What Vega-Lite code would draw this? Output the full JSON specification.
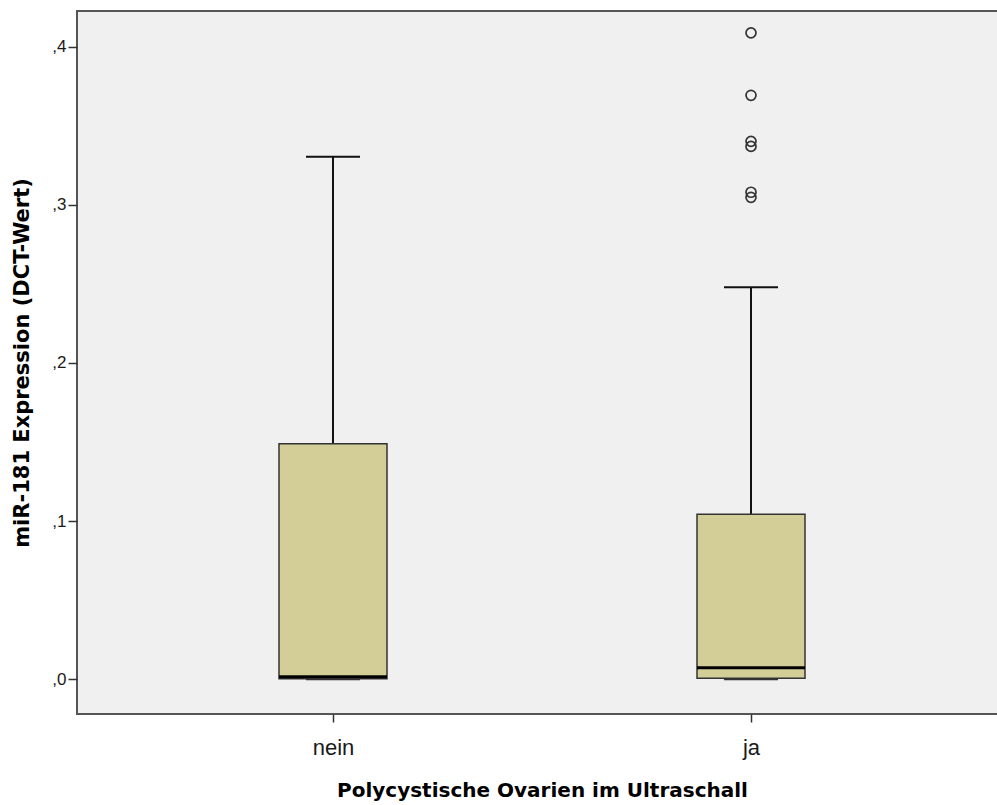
{
  "$schema": "https://vega.github.io/schema/vega-lite/v6.json",
  "autosize": "none",
  "width": 930,
  "height": 703,
  "padding": {"left": 77, "top": 11, "right": 0, "bottom": 91},
  "background": "white",
  "config": {
    "view": {"fill": "#F0F0F0", "stroke": "#555555", "strokeWidth": 2},
    "font": "Liberation Sans",
    "axis": {"grid": false, "domain": false, "tickColor": "#333333", "tickWidth": 1.5, "labelFont": "Liberation Sans", "titleFont": "DejaVu Sans", "labelColor": "#1a1a1a", "titleColor": "#000000"}
  },
  "datasets": {
    "boxes": [
      {"group": "nein", "lower": 0.0, "q1": 0.0003, "median": 0.0016, "q3": 0.1488, "upper": 0.3304},
      {"group": "ja", "lower": 0.0, "q1": 0.0006, "median": 0.0073, "q3": 0.1043, "upper": 0.2479}
    ],
    "outliers": [
      {"group": "ja", "value": 0.4087},
      {"group": "ja", "value": 0.3692},
      {"group": "ja", "value": 0.3401},
      {"group": "ja", "value": 0.3369},
      {"group": "ja", "value": 0.3079},
      {"group": "ja", "value": 0.3047}
    ]
  },
  "encoding": {
    "x": {
      "field": "group", "type": "nominal", "sort": ["nein", "ja"],
      "scale": {"type": "point", "padding": 0.6124},
      "axis": {"title": "Polycystische Ovarien im Ultraschall", "labelAngle": 0, "labelFontSize": 22, "tickSize": 8, "labelPadding": 15, "titleFontSize": 20, "titleFontWeight": "bold", "titlePadding": 22}
    }
  },
  "layer": [
    {
      "data": {"name": "boxes"},
      "mark": {"type": "rule", "color": "#111111", "strokeWidth": 2, "opacity": 1},
      "encoding": {
        "y": {"field": "q3", "type": "quantitative", "scale": {"domain": [-0.022, 0.4225], "nice": false, "zero": false},
          "axis": {"title": "miR-181 Expression (DCT-Wert)", "values": [0, 0.1, 0.2, 0.3, 0.4], "format": ".1f", "labelExpr": "replace(datum.label, '0.', ',')", "labelFontSize": 17, "tickSize": 9, "labelPadding": 2, "titleFontSize": 21, "titleFontWeight": "bold", "titlePadding": 19}},
        "y2": {"field": "upper"}
      }
    },
    {
      "data": {"name": "boxes"},
      "mark": {"type": "rule", "color": "#111111", "strokeWidth": 2, "opacity": 1},
      "encoding": {
        "y": {"field": "lower", "type": "quantitative"},
        "y2": {"field": "q1"}
      }
    },
    {
      "data": {"name": "boxes"},
      "mark": {"type": "bar", "size": 108, "fill": "#D3CE97", "stroke": "#333333", "strokeWidth": 1.5, "opacity": 1},
      "encoding": {
        "y": {"field": "q1", "type": "quantitative"},
        "y2": {"field": "q3"}
      }
    },
    {
      "data": {"name": "boxes"},
      "mark": {"type": "tick", "size": 108, "thickness": 3, "color": "#000000", "opacity": 1},
      "encoding": {
        "y": {"field": "median", "type": "quantitative"}
      }
    },
    {
      "data": {"name": "boxes"},
      "mark": {"type": "tick", "size": 54, "thickness": 2, "color": "#111111", "opacity": 1},
      "encoding": {
        "y": {"field": "upper", "type": "quantitative"}
      }
    },
    {
      "data": {"name": "boxes"},
      "mark": {"type": "tick", "size": 54, "thickness": 2, "color": "#333333", "opacity": 1},
      "encoding": {
        "y": {"field": "lower", "type": "quantitative"}
      }
    },
    {
      "data": {"name": "outliers"},
      "mark": {"type": "point", "shape": "circle", "filled": false, "size": 100, "stroke": "#333333", "strokeWidth": 1.7, "opacity": 1},
      "encoding": {
        "y": {"field": "value", "type": "quantitative"}
      }
    }
  ]
}
